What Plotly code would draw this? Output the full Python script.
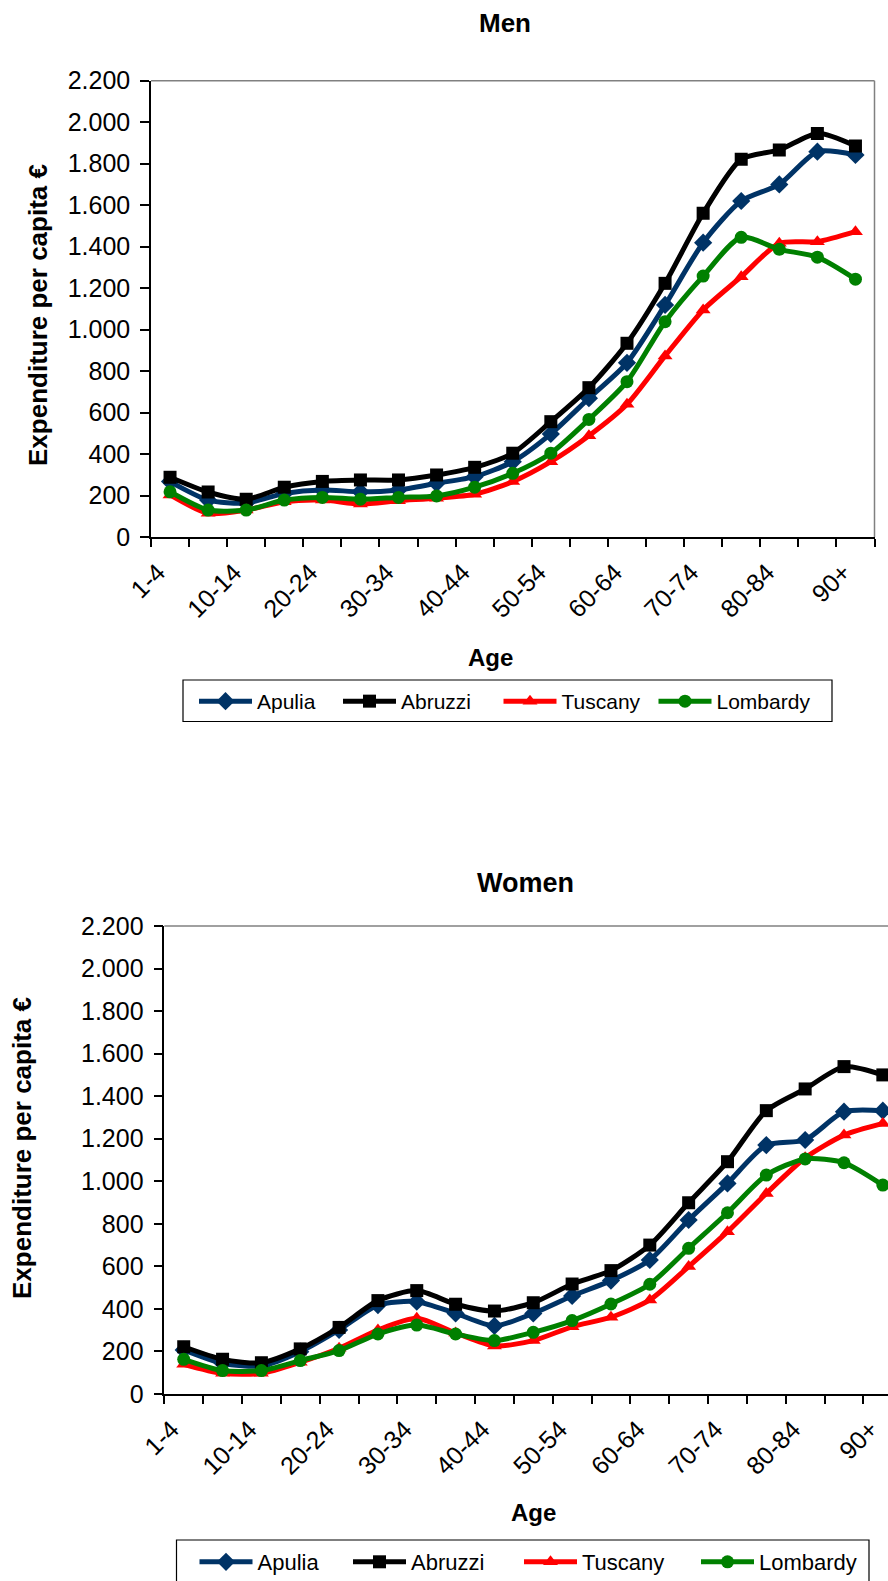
import plotly.graph_objects as go

# ---------------- data ----------------
ages = ["1-4", "5-9", "10-14", "15-19", "20-24", "25-29", "30-34", "35-39", "40-44",
        "45-49", "50-54", "55-59", "60-64", "65-69", "70-74", "75-79", "80-84", "85-89", "90+"]
shown_labels = ages[::2]

regions = ["Apulia", "Abruzzi", "Tuscany", "Lombardy"]

men_apulia = [267, 178, 164, 210, 227, 218, 227, 259, 291, 363, 497, 669, 840, 1119, 1419, 1620, 1700, 1858, 1842]
men_abruzzi = [288, 217, 182, 240, 268, 275, 275, 299, 336, 404, 556, 720, 934, 1223, 1561, 1821, 1866, 1946, 1885]
men_tuscany = [203, 114, 130, 170, 178, 159, 175, 187, 206, 267, 363, 488, 640, 873, 1095, 1255, 1416, 1424, 1472]
men_lombardy = [218, 130, 130, 178, 191, 182, 191, 198, 240, 307, 404, 567, 749, 1038, 1258, 1445, 1387, 1349, 1243]

women_apulia = [207, 144, 132, 199, 301, 418, 434, 379, 320, 379, 461, 533, 630, 818, 990, 1170, 1194, 1327, 1332]
women_abruzzi = [222, 163, 147, 212, 313, 439, 486, 422, 390, 429, 517, 580, 700, 899, 1092, 1332, 1434, 1539, 1500]
women_tuscany = [140, 97, 97, 149, 215, 301, 356, 287, 226, 251, 316, 361, 442, 599, 763, 943, 1110, 1217, 1272]
women_lombardy = [163, 110, 110, 157, 204, 282, 324, 282, 251, 290, 345, 423, 516, 685, 852, 1029, 1105, 1087, 982]

y_ticks = list(range(0, 2201, 200))

# ---------------- styling ----------------
W, H = 888, 1581
FONT = "Liberation Sans, Arial, sans-serif"
colors = {"Apulia": "#003366", "Abruzzi": "#000000", "Tuscany": "#ff0000", "Lombardy": "#008000"}
symbols = {"Apulia": "diamond", "Abruzzi": "square", "Tuscany": "triangle-up", "Lombardy": "circle"}

# legend entry positions (px): start of the legend line for each region
men_leg_x = {"Apulia": 196, "Abruzzi": 340, "Tuscany": 500.5, "Lombardy": 655.5}
women_leg_x = {"Apulia": 196.5, "Abruzzi": 350, "Tuscany": 521, "Lombardy": 698}


def fx(p):
    return p / W


def fy(p):
    return 1 - p / H


x_idx = list(range(len(ages)))
men = dict(zip(regions, [men_apulia, men_abruzzi, men_tuscany, men_lombardy]))
women = dict(zip(regions, [women_apulia, women_abruzzi, women_tuscany, women_lombardy]))

fig = go.Figure()
legends = {}
k = 0
for panel, data, xa, ya, legx, legtop, lfs in [
        ("men", men, "x", "y", men_leg_x, 681, 21),
        ("women", women, "x2", "y2", women_leg_x, 1541, 22)]:
    for r in regions:
        k += 1
        lname = "legend" if k == 1 else f"legend{k}"
        legends[lname] = dict(
            orientation="v", x=fx(legx[r] - 2), y=fy(legtop), xanchor="left", yanchor="top",
            borderwidth=0, bgcolor="rgba(0,0,0,0)", itemwidth=53,
            font=dict(family=FONT, size=lfs, color="black"))
        fig.add_trace(go.Scatter(
            x=x_idx, y=data[r], name=r, mode="lines+markers",
            xaxis=xa, yaxis=ya, legend=lname,
            line=dict(color=colors[r], width=5, shape="spline", smoothing=0.7),
            marker=dict(symbol=symbols[r], size=13 if r != "Apulia" else 14, color=colors[r]),
        ))

tick_font = dict(family=FONT, size=25, color="black")


def xaxis_cfg(domain, rng, anchor):
    return dict(
        domain=domain, range=rng, anchor=anchor, automargin=False,
        tickmode="array", tickvals=[ages.index(a) for a in shown_labels], ticktext=shown_labels,
        tickangle=-45, ticks="", tickfont=tick_font, ticklabelstandoff=9, ticklabelshift=-12,
        ticklabeloverflow="allow",
        minor=dict(ticks="outside", tickmode="linear", tick0=-0.5, dtick=1, ticklen=8,
                   tickcolor="black", tickwidth=1.5, showgrid=False),
        showline=True, linecolor="black", linewidth=1.5,
        showgrid=False, zeroline=False, fixedrange=True,
    )


def yaxis_cfg(domain, anchor):
    return dict(
        domain=domain, range=[0, 2200], anchor=anchor, automargin=False,
        tickmode="array", tickvals=y_ticks, tickformat=",d",
        ticks="outside", ticklen=9, tickwidth=1.5, tickcolor="black",
        tickfont=tick_font, ticklabelstandoff=5,
        showline=True, linecolor="black", linewidth=1.5,
        showgrid=False, zeroline=False, fixedrange=True,
    )


men_left, men_right, men_top, men_bottom = 151, 874.5, 80.7, 537
w_left, w_top, w_bottom = 164.3, 926, 1394
w_step = 38.84
w_right_val = (W - w_left) / w_step - 0.5

fig.update_layout(
    width=W, height=H,
    margin=dict(l=0, r=0, t=0, b=0, autoexpand=False),
    paper_bgcolor="white", plot_bgcolor="white",
    separators=",.",
    showlegend=True,
    font=dict(family=FONT, color="black"),
    xaxis=xaxis_cfg([fx(men_left), fx(men_right)], [-0.5, len(ages) - 0.5], "y"),
    yaxis=yaxis_cfg([fy(men_bottom), fy(men_top)], "x"),
    xaxis2=xaxis_cfg([fx(w_left), 1.0], [-0.5, w_right_val], "y2"),
    yaxis2=yaxis_cfg([fy(w_bottom), fy(w_top)], "x2"),
    **legends,
)

# plot-area frame (gray top / right borders)
fig.add_shape(type="line", xref="x domain", yref="y domain", x0=0, x1=1, y0=1, y1=1,
              line=dict(color="#808080", width=1.5))
fig.add_shape(type="line", xref="x domain", yref="y domain", x0=1, x1=1, y0=0, y1=1,
              line=dict(color="#808080", width=1.5))
fig.add_shape(type="line", xref="x2 domain", yref="y2 domain", x0=0, x1=1, y0=1, y1=1,
              line=dict(color="#808080", width=1.5))
# legend boxes
fig.add_shape(type="rect", xref="paper", yref="paper", x0=fx(183), x1=fx(832), y0=fy(721.5), y1=fy(680),
              line=dict(color="black", width=1.2), layer="below")
fig.add_shape(type="rect", xref="paper", yref="paper", x0=fx(176.5), x1=fx(869), y0=fy(1590), y1=fy(1540),
              line=dict(color="black", width=1.2), layer="below")


def label(text, x, y, size, angle=0):
    return dict(text=text, x=fx(x), y=fy(y), xref="paper", yref="paper",
                xanchor="center", yanchor="middle", showarrow=False, textangle=angle,
                font=dict(family=FONT, size=size, color="black"))


ann = [
    label("<b>Men</b>", 505, 23, 26),
    label("<b>Women</b>", 525, 883, 27),
    label("<b>Age</b>", 491, 657, 24),
    label("<b>Age</b>", 533, 1512, 24),
    label("<b>Expenditure per capita €</b>", 38, 315, 26, -90),
    label("<b>Expenditure per capita €</b>", 22, 1148, 26, -90),
]
fig.update_layout(annotations=ann)

fig.write_html("out.html")
